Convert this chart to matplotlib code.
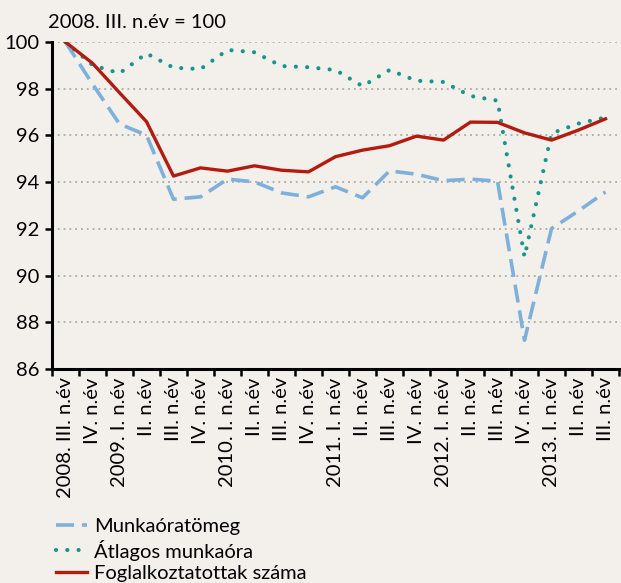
import matplotlib
matplotlib.use("Agg")
import matplotlib.pyplot as plt
import numpy as np

plt.rcParams['font.family'] = ['Lato', 'DejaVu Sans']

categories = ["2008. III. n.év", "IV. n.év", "2009. I. n.év", "II. n.év", "III. n.év", "IV. n.év",
              "2010. I. n.év", "II. n.év", "III. n.év", "IV. n.év",
              "2011. I. n.év", "II. n.év", "III. n.év", "IV. n.év",
              "2012. I. n.év", "II. n.év", "III. n.év", "IV. n.év",
              "2013. I. n.év", "II. n.év", "III. n.év"]

munkaoratomeg = [100.0, 98.2, 96.49, 96.01, 93.27, 93.37, 94.13, 94.01, 93.54, 93.37,
                 93.80, 93.33, 94.48, 94.34, 94.06, 94.13, 94.04, 87.23, 92.01, 92.77, 93.58]
atlagos = [100.0, 99.01, 98.66, 99.51, 98.90, 98.84, 99.66, 99.56, 98.97, 98.92,
           98.80, 98.11, 98.80, 98.34, 98.29, 97.69, 97.49, 90.8, 96.09, 96.51, 96.77]
foglalk = [100.0, 99.09, 97.83, 96.59, 94.26, 94.61, 94.47, 94.70, 94.51, 94.44,
           95.09, 95.37, 95.56, 95.97, 95.80, 96.57, 96.56, 96.11, 95.80, 96.23, 96.71]

series_labels = ["Munkaóratömeg", "Átlagos munkaóra", "Foglalkoztatottak száma"]
yticks = [86, 88, 90, 92, 94, 96, 98, 100]

bg = "#F3F0EC"
c_blue = "#7DB0DA"
c_teal = "#16968A"
c_red = "#B31B0E"
fs = 14.5

W, H = 621, 583
fig = plt.figure(figsize=(W / 100, H / 100), dpi=100, facecolor=bg)
ax = fig.add_axes([52 / W, 1 - 369 / H, (619 - 52) / W, (369 - 42) / H], facecolor=bg)

x = np.arange(len(categories))
l1, = ax.plot(x, munkaoratomeg, color=c_blue, lw=2.6, dashes=(5, 2.2), solid_capstyle='butt',
              label=series_labels[0], zorder=3)
l2, = ax.plot(x, atlagos, color=c_teal, lw=3.0, linestyle=(0, (0.01, 2.7)), dash_capstyle='round',
              label=series_labels[1], zorder=4)
l3, = ax.plot(x, foglalk, color=c_red, lw=2.4, label=series_labels[2], zorder=5)

ax.set_xlim(-0.5, len(categories) - 0.5)
ax.set_ylim(86, 100)
ax.set_yticks(yticks)
ax.set_yticklabels([str(v) for v in yticks], fontsize=fs)
for v in yticks[1:]:
    ax.axhline(v, color="#A09C98", lw=1.1, linestyle=(0, (1.2, 2.6)), zorder=1)

ax.set_xticks(x)
ax.set_xticklabels(categories, rotation=90, fontsize=fs, va='top', ha='center')
ax.set_xticks(np.arange(-0.5, len(categories), 1), minor=True)
ax.tick_params(axis='x', which='major', length=0, pad=6)
ax.tick_params(axis='x', which='minor', length=5, width=1.8, direction='out')
ax.tick_params(axis='y', length=5, width=1.8, direction='out', pad=4)

for s in ['top', 'right']:
    ax.spines[s].set_visible(False)
for s in ['left', 'bottom']:
    ax.spines[s].set_linewidth(2.2)
    ax.spines[s].set_color('black')

fig.text(48 / W, 1 - 23 / H, "2008. III. n.év = 100", fontsize=fs, va='center', ha='left')

leg = fig.legend(handles=[l1, l2, l3], loc='upper left', bbox_to_anchor=(56 / W, 1 - 518 / H),
                 frameon=False, fontsize=fs, handlelength=1.55, handletextpad=0.35,
                 labelspacing=0.22, borderaxespad=0, borderpad=0)

fig.savefig("out.png", dpi=100, facecolor=bg)
